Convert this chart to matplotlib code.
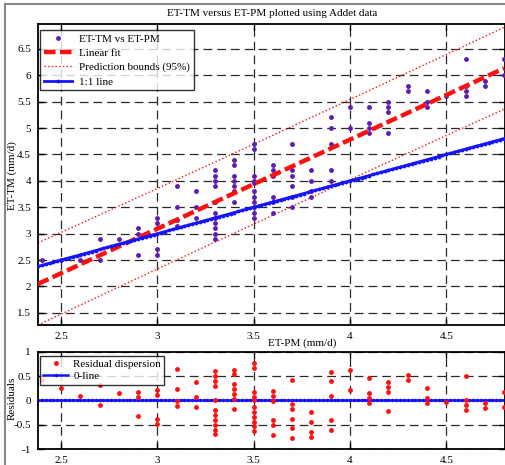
import matplotlib
matplotlib.use("Agg")
import matplotlib.pyplot as plt
import numpy as np
from matplotlib.patches import Rectangle

plt.rcParams['font.family'] = ['Liberation Serif', 'DejaVu Serif']
plt.rcParams['axes.unicode_minus'] = False

# ET-PM (x) and ET-TM (y) observations, one row per ET-PM value
et_pm = ([2.4] + [2.5] + [2.6] + [2.7] * 2 + [2.8] + [2.9] * 3 + [3.0] * 4 + [3.1] * 4
         + [3.2] * 3 + [3.3] * 11 + [3.4] * 7 + [3.5] * 11 + [3.6] * 6 + [3.7] * 6
         + [3.8] * 4 + [3.9] * 5 + [4.0] * 2 + [4.1] * 4 + [4.2] * 4 + [4.3] * 2
         + [4.4] * 3 + [4.5] + [4.6] * 4 + [4.7] * 2 + [4.8] * 2)
et_tm = [2.5,
         2.5,
         2.5,
         2.9, 2.5,
         2.9,
         3.1, 3.0, 2.6,
         3.3, 3.2, 2.7, 2.6,
         3.9, 3.5, 3.25, 3.15,
         3.8, 3.5, 3.3,
         4.2, 4.1, 4.0, 3.9, 3.6, 3.4, 3.3, 3.2, 3.1, 3.0, 2.9,
         4.4, 4.3, 4.1, 4.0, 3.9, 3.8, 3.6,
         4.7, 4.6, 4.1, 4.0, 3.95, 3.8, 3.7, 3.6, 3.5, 3.4, 3.3,
         4.3, 4.2, 4.1, 3.7, 3.6, 3.4,
         4.7, 4.2, 4.1, 3.9, 3.7, 3.5,
         4.2, 4.0, 3.8, 3.7,
         5.2, 5.0, 4.7, 4.2, 4.0,
         5.4, 5.0,
         5.4, 5.1, 5.0, 4.9,
         5.5, 5.4, 5.3, 4.9,
         5.8, 5.7,
         5.7, 5.5, 5.4,
         5.6,
         6.3, 5.8, 5.7, 5.6,
         5.9, 5.8,
         6.3, 6.0]

x = np.array(et_pm)
y = np.array(et_tm)

# linear fit and 95% prediction bounds
coef = np.polyfit(x, y, 1)
xg = np.linspace(2.38, 4.8, 122)
fit = np.polyval(coef, xg)
resid = y - np.polyval(coef, x)
n = len(x)
s = np.sqrt(np.sum(resid ** 2) / (n - 2))
sxx = np.sum((x - x.mean()) ** 2)
half = 1.986 * s * np.sqrt(1 + 1 / n + (xg - x.mean()) ** 2 / sxx)

W, H = 506, 465
fig = plt.figure(figsize=(W / 100, H / 100), dpi=100)
fig.patches.append(Rectangle((5 / W, -0.1), 1.2, (H - 4) / H + 0.1, transform=fig.transFigure,
                             fill=False, edgecolor='#8a8a8a', linewidth=1.5))

ax1 = fig.add_axes([38 / W, (H - 325) / H, 467 / W, 301 / H])
ax2 = fig.add_axes([38 / W, (H - 449) / H, 467 / W, 97.3 / H])

purple = '#5e1cb0'
red = '#ff1010'
blue = '#1414ff'
grid_kw = dict(color='#2a2a2a', linestyle=(0, (7, 4)), linewidth=0.9)
fs = 8

ax1.plot(x, y, 'o', color=purple, markersize=3.5, markeredgewidth=0, label='ET-TM vs ET-PM', zorder=3)
ax1.plot(xg, fit, '--', color=red, linewidth=3.2, dashes=(2.6, 1.0),
         label='Linear fit', zorder=4)
ax1.plot(xg, fit + half, ':', color=red, linewidth=1, label='Prediction bounds (95%)', zorder=2)
ax1.plot(xg, fit - half, ':', color=red, linewidth=1, zorder=2)
ax1.plot(xg, xg, '-', color=blue, linewidth=2, marker='.', markersize=3.5, label='1:1 line', zorder=4)

ax1.set_xlim(2.38, 4.805)
ax1.set_ylim(1.27, 6.97)
ax1.set_xticks([2.5, 3, 3.5, 4, 4.5])
ax1.set_xticklabels(['2.5', '3', '3.5', '4', '4.5'])
ax1.set_yticks([1.5, 2, 2.5, 3, 3.5, 4, 4.5, 5, 5.5, 6, 6.5])
ax1.set_yticklabels(['1.5', '2', '2.5', '3', '3.5', '4', '4.5', '5', '5.5', '6', '6.5'])
ax1.grid(True, **grid_kw)
ax1.set_axisbelow(True)

ax2.plot(x, resid, 'o', color=red, markersize=3.5, markeredgewidth=0, label='Residual dispersion', zorder=3)
ax2.plot(xg, np.zeros_like(xg), '-', color=blue, linewidth=1.8, marker='.', markersize=3,
         label='0-line', zorder=2)
ax2.set_xlim(2.38, 4.805)
ax2.set_ylim(-1, 1)
ax2.set_xticks([2.5, 3, 3.5, 4, 4.5])
ax2.set_xticklabels(['2.5', '3', '3.5', '4', '4.5'])
ax2.set_yticks([-1, -0.5, 0, 0.5, 1])
ax2.set_yticklabels(['-1', '-0.5', '0', '0.5', '1'])
ax2.grid(True, **grid_kw)
ax2.set_axisbelow(True)

for ax in (ax1, ax2):
    ax.tick_params(direction='in', top=True, right=True, length=4, width=1, labelsize=fs, pad=5)
    for sp in ax.spines.values():
        sp.set_linewidth(1.3)

leg1 = ax1.legend(loc='upper left', bbox_to_anchor=(40.5 / W, 1 - 30 / H), bbox_transform=fig.transFigure,
                  borderaxespad=0, fontsize=fs, frameon=True, fancybox=False, edgecolor='black',
                  handlelength=2.5, labelspacing=0.4, borderpad=0.35, handletextpad=0.6, numpoints=1)
leg1.get_frame().set_linewidth(1)
leg1.set_zorder(10)
leg2 = ax2.legend(loc='upper left', bbox_to_anchor=(40 / W, 1 - 355.5 / H), bbox_transform=fig.transFigure,
                  borderaxespad=0, fontsize=fs, frameon=True, fancybox=False, edgecolor='black',
                  handlelength=2.2, labelspacing=0.25, borderpad=0.3, handletextpad=0.5, numpoints=1)
leg2.get_frame().set_linewidth(1)
leg2.set_zorder(10)

fig.text(272 / W, 1 - 14 / H, 'ET-TM versus ET-PM plotted using Addet data', ha='center', va='center', fontsize=fs)
fig.text(302 / W, 1 - 343 / H, 'ET-PM (mm/d)', ha='center', va='center', fontsize=fs)
fig.text(12 / W, 1 - 176 / H, 'ET-TM (mm/d)', ha='center', va='center', rotation=90, fontsize=fs)
fig.text(12 / W, 1 - 398 / H, 'Residuals', ha='center', va='center', rotation=90, fontsize=fs)

fig.savefig('out.png', dpi=100)
